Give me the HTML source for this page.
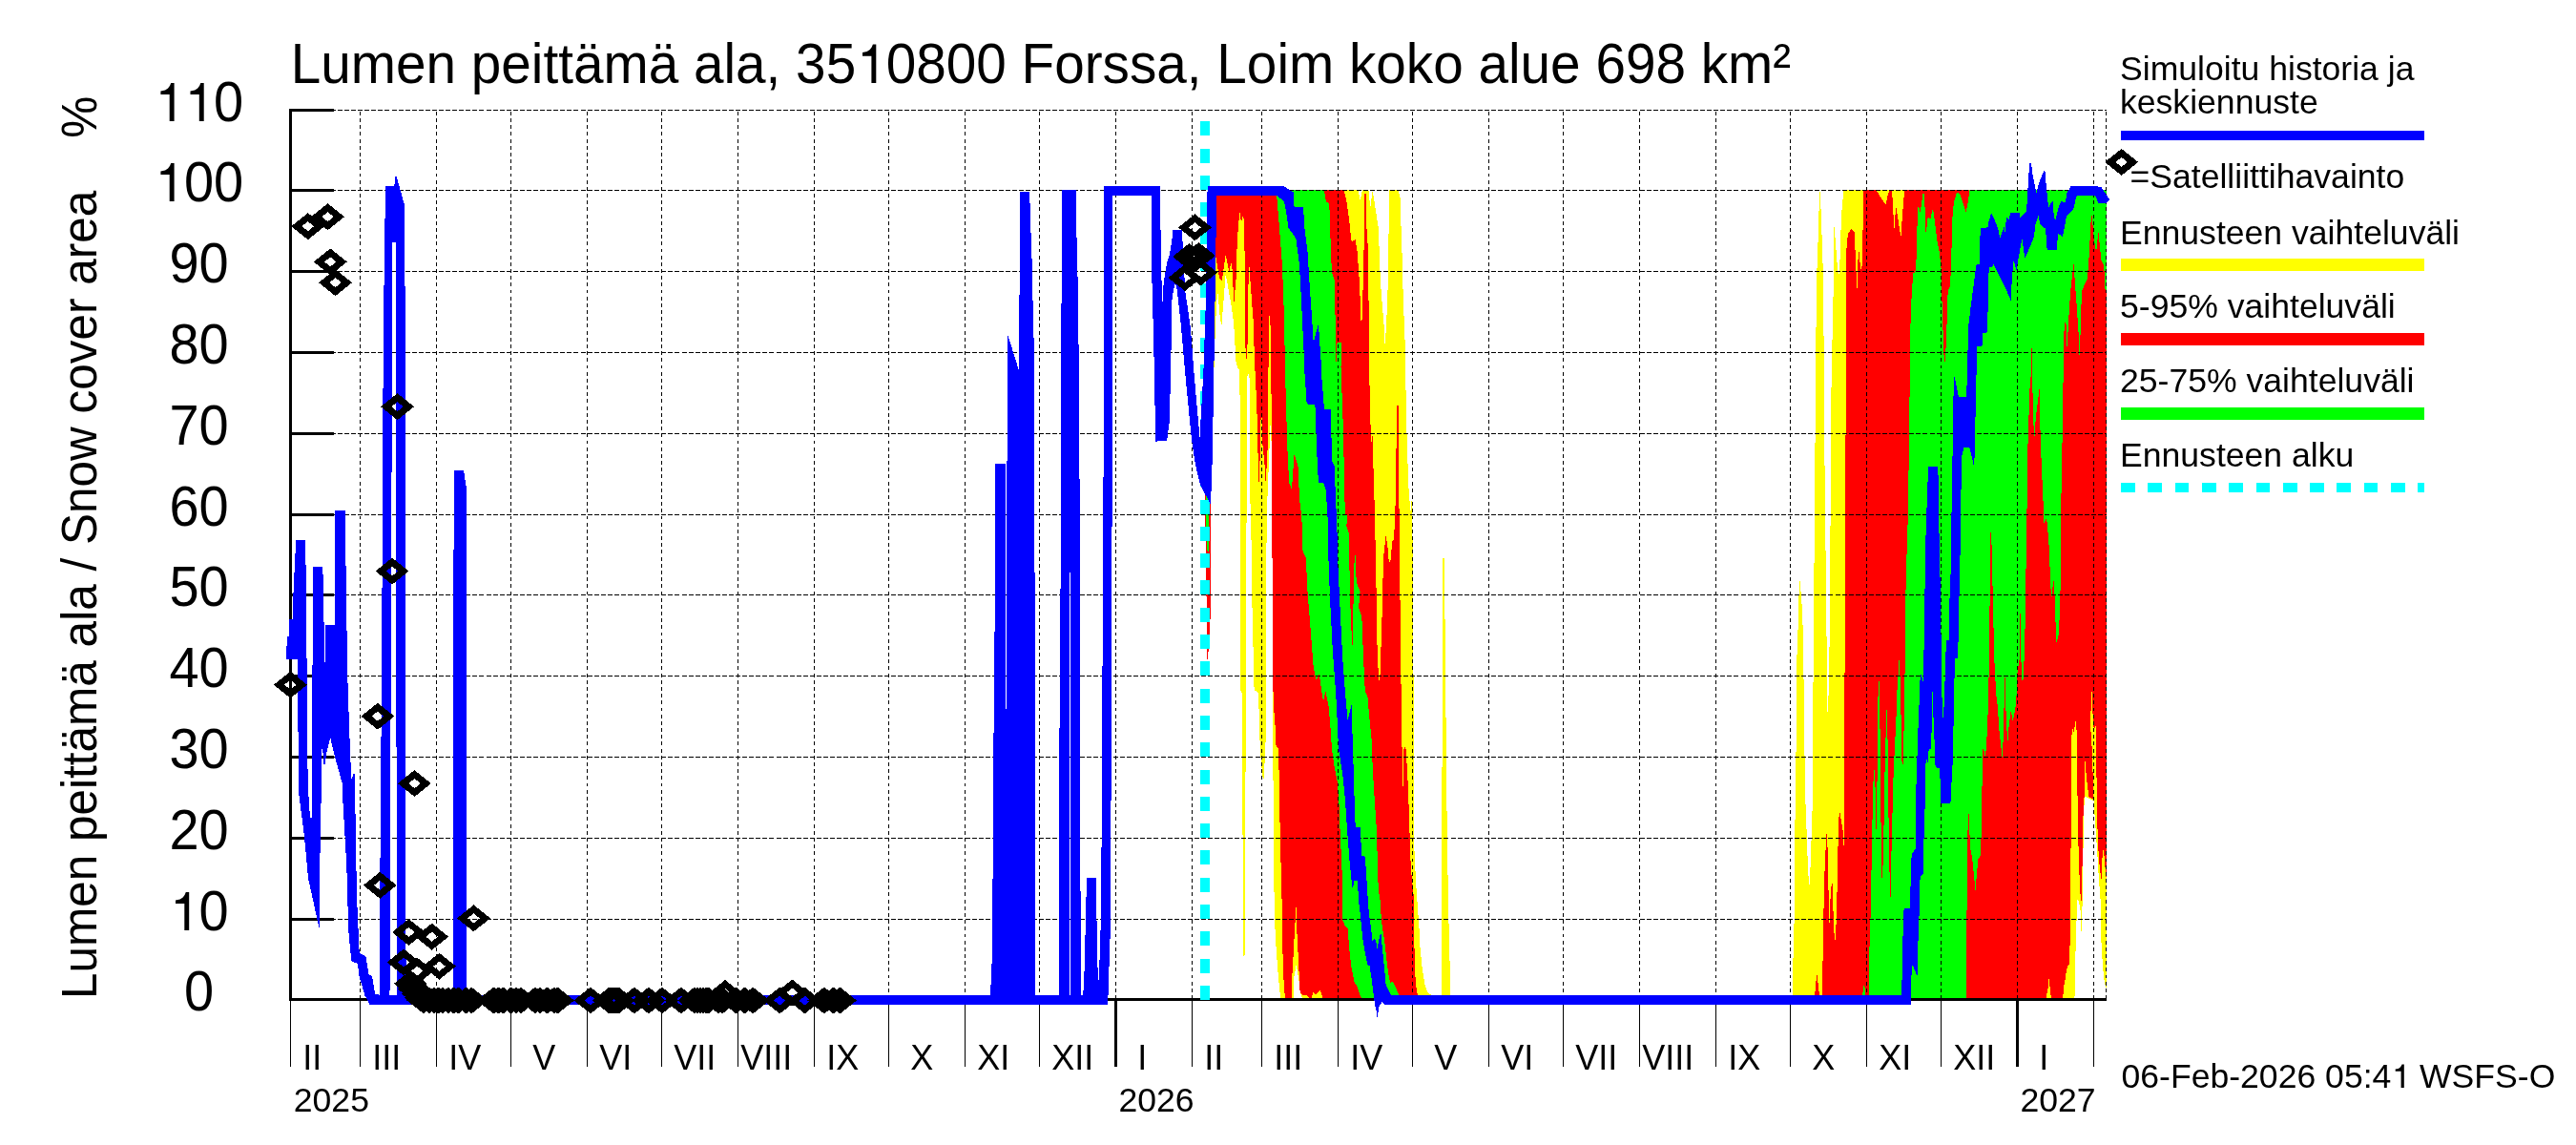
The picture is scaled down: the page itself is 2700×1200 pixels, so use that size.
<!DOCTYPE html>
<html><head><meta charset="utf-8"><title>Lumen peittämä ala</title>
<style>
html,body{margin:0;padding:0;background:#fff;}
body{width:2700px;height:1200px;overflow:hidden;font-family:"Liberation Sans",sans-serif;}
svg{display:block;position:absolute;left:0;top:0;will-change:transform}
text{font-family:"Liberation Sans",sans-serif;fill:#000;font-kerning:none;font-variant-ligatures:none}
</style></head><body>
<svg width="2700" height="1200" viewBox="0 0 2700 1200">
<rect width="2700" height="1200" fill="#fff"/>
<g shape-rendering="crispEdges">
<path d="M1270.0 199.3L1423.6 199.3L1425.7 209.5L1427.9 199.3L1434.4 199.3L1436.3 217.3L1438.4 201.6L1438.8 200.7L1441.9 220.0L1444.5 237.4L1445.8 263.6L1446.8 293.3L1448.9 321.2L1450.7 342.2L1451.7 364.0L1452.4 351.0L1453.8 324.7L1455.0 289.8L1455.5 246.1L1456.2 199.3L1465.5 199.3L1467.8 207.7L1468.5 237.4L1469.9 275.8L1470.7 310.8L1472.0 342.2L1473.0 368.4L1473.0 385.0L1474.5 454.9L1476.2 507.3L1477.1 521.3L1478.5 535.0L1480.3 517.8L1480.6 585.0L1481.5 707.3L1482.4 785.0L1482.4 889.8L1484.1 924.8L1485.9 951.0L1487.6 973.7L1488.6 994.3L1490.8 1016.1L1493.5 1032.4L1496.2 1040.0L1500.0 1042.7L1501.0 1047.5L1365.2 1047.5L1363.0 1040.0L1361.4 1027.0L1358.7 1011.0L1355.9 1027.0L1355.9 1047.5L1342.2 1047.5L1340.2 1027.0L1338.0 1000.0L1336.4 972.0L1335.6 942.0L1334.7 872.0L1334.4 785.0L1333.9 686.0L1333.5 585.0L1333.0 470.0L1331.5 446.0L1328.5 520.0L1326.9 600.0L1326.5 785.0L1324.2 821.0L1322.0 800.0L1320.8 785.0L1319.0 726.0L1314.6 723.0L1313.8 690.0L1312.4 632.0L1312.0 585.0L1310.3 520.0L1310.3 400.0L1308.5 392.0L1306.8 396.0L1306.8 500.0L1306.3 585.0L1306.3 800.0L1305.0 815.0L1304.9 1000.0L1303.8 1003.0L1302.7 1000.0L1302.5 875.0L1301.5 870.0L1301.5 726.0L1300.3 724.0L1300.3 600.0L1299.4 388.0L1297.0 385.0L1295.5 379.0L1293.2 339.0L1290.5 320.0L1284.7 287.0L1280.5 340.0L1279.0 335.0L1276.1 304.0L1274.0 340.0L1272.5 385.0L1270.0 385.0Z" fill="#ffff00"/>
<path d="M1512.5 585.0L1513.9 585.0L1515.0 700.0L1516.5 850.0L1518.0 950.0L1519.3 995.0L1520.1 1038.0L1520.5 1047.5L1511.2 1047.5L1511.2 940.0L1511.4 850.0L1511.8 700.0Z" fill="#ffff00"/>
<path d="M1878.4 1047.5L1879.3 1010.0L1880.4 978.0L1881.3 904.0L1881.8 799.0L1882.7 785.0L1883.2 695.0L1884.5 660.0L1885.3 630.0L1886.2 605.1L1887.5 620.0L1888.8 637.4L1889.7 660.1L1890.6 717.8L1891.4 785.0L1892.3 837.4L1893.5 868.8L1894.9 907.3L1896.3 930.9L1897.6 907.3L1898.8 872.3L1899.8 840.9L1900.2 785.0L1900.5 717.8L1901.0 595.5L1901.9 585.0L1902.4 481.0L1903.1 385.0L1903.7 324.7L1904.5 281.0L1905.8 246.0L1906.8 211.2L1907.5 200.7L1908.6 220.0L1909.8 254.9L1910.7 281.0L1911.2 324.7L1911.9 385.0L1912.4 476.0L1913.3 573.6L1914.1 585.0L1914.5 667.0L1915.5 746.6L1916.8 724.7L1917.6 672.3L1918.2 585.0L1918.5 554.4L1919.0 433.9L1919.9 385.0L1920.8 342.2L1922.0 289.8L1922.5 238.3L1924.0 255.0L1925.5 275.0L1927.2 291.6L1928.5 272.3L1929.5 240.9L1930.7 216.4L1932.5 199.3L2208.2 199.3L2208.2 1036.0L2207.3 1034.8L2205.9 1030.6L2204.0 1013.8L2202.4 985.9L2202.4 959.7L2201.5 942.2L2199.7 917.7L2198.0 889.8L2196.2 863.6L2194.5 839.1L2185.8 834.8L2184.9 836.0L2184.0 854.9L2183.5 889.8L2182.8 924.7L2182.5 950.0L2182.3 994.0L2180.6 955.0L2179.0 944.0L2177.2 943.3L2175.5 997.0L2174.7 1041.8L2174.2 1047.5Z" fill="#ffff00"/>
<path d="M1270.0 199.3L1408.7 199.3L1411.4 211.0L1414.0 229.0L1415.7 246.0L1416.6 253.0L1420.6 251.0L1422.7 264.0L1424.5 290.0L1425.9 318.0L1426.5 336.0L1427.9 335.0L1428.8 290.0L1429.7 255.0L1429.7 203.3L1431.8 203.3L1432.3 237.0L1433.5 255.0L1434.2 307.0L1434.9 325.0L1434.8 385.0L1436.1 420.0L1436.9 469.0L1437.8 460.0L1438.3 448.0L1438.8 470.0L1440.4 518.0L1441.3 560.0L1442.2 585.0L1443.0 664.0L1444.8 707.0L1445.7 714.0L1446.5 707.0L1448.3 655.0L1449.2 620.0L1450.0 585.0L1451.0 575.0L1452.5 562.0L1454.4 572.0L1455.3 585.0L1457.0 590.0L1458.0 585.0L1459.0 567.0L1461.0 565.0L1462.0 545.0L1462.3 539.0L1463.2 500.0L1464.0 425.2L1465.8 425.2L1466.0 500.0L1466.6 539.0L1466.6 585.0L1467.5 629.0L1468.4 707.0L1469.2 780.0L1469.8 785.0L1470.5 824.0L1471.5 785.0L1472.7 783.0L1473.6 785.0L1475.4 815.0L1477.1 858.0L1478.0 890.0L1478.9 911.0L1481.5 937.0L1482.3 985.0L1483.2 1021.0L1484.8 1038.0L1485.9 1043.0L1486.5 1047.5L1385.9 1047.5L1385.4 1042.0L1383.7 1037.8L1378.8 1042.7L1376.0 1040.0L1375.0 1046.5L1372.8 1046.0L1369.6 1042.7L1365.0 1043.0L1363.0 1040.0L1362.5 1038.0L1360.9 1005.0L1359.3 975.0L1358.5 951.0L1357.0 975.0L1355.7 1000.0L1354.1 1027.0L1353.8 1047.5L1347.1 1047.5L1345.7 1032.0L1344.6 1005.0L1343.5 942.0L1342.6 907.0L1341.7 872.0L1340.8 820.0L1340.0 785.0L1337.4 781.0L1336.5 760.0L1334.7 737.0L1333.9 686.0L1333.5 585.0L1333.0 425.0L1332.0 400.0L1331.5 341.0L1330.5 330.5L1329.8 341.0L1329.4 404.0L1328.8 467.0L1326.7 506.6L1325.6 488.0L1323.5 467.0L1321.9 420.6L1321.0 467.0L1320.0 500.0L1319.4 506.6L1318.3 467.0L1317.3 425.0L1315.2 383.0L1313.0 320.0L1312.8 326.0L1310.9 300.0L1309.5 280.2L1308.4 300.0L1308.4 320.0L1307.6 360.0L1306.4 377.7L1305.2 360.0L1304.8 320.0L1304.6 266.0L1304.0 241.0L1303.3 223.2L1301.0 233.0L1299.3 222.0L1297.5 243.5L1296.4 263.0L1295.8 289.3L1293.2 319.5L1291.9 284.0L1290.3 275.0L1288.3 285.4L1284.7 266.4L1280.7 294.6L1278.1 292.0L1274.2 268.0L1270.0 268.0Z" fill="#ff0000"/>
<path d="M1910.0 1047.5L1910.6 1000.0L1911.4 958.0L1912.1 923.0L1913.3 895.0L1915.0 866.2L1916.2 917.7L1917.3 972.8L1918.3 945.0L1920.3 918.1L1921.1 945.7L1922.8 985.0L1923.8 985.0L1924.6 966.7L1925.5 935.2L1926.4 891.6L1927.2 860.0L1928.1 849.3L1929.9 860.1L1931.6 870.6L1932.5 886.3L1932.8 880.0L1932.8 707.3L1933.7 703.8L1933.9 585.0L1933.9 458.4L1934.8 454.9L1935.1 385.0L1935.1 264.0L1936.9 245.0L1940.3 240.0L1943.8 243.0L1945.0 275.0L1946.5 302.0L1947.3 275.0L1948.2 260.0L1949.5 275.0L1950.0 283.0L1951.7 279.0L1952.6 237.0L1953.4 199.3L1966.6 199.3L1972.0 208.0L1976.7 214.7L1978.5 205.0L1980.5 199.3L1983.1 199.3L1984.5 225.0L1985.4 240.9L1986.5 225.0L1987.5 218.2L1989.5 230.0L1992.4 248.8L1994.0 225.0L1996.2 199.3L2208.2 199.3L2208.2 925.0L2206.7 910.8L2205.5 896.8L2204.1 888.1L2203.2 905.5L2202.4 923.0L2200.6 907.3L2198.9 882.8L2198.0 851.4L2196.5 845.0L2194.5 838.0L2189.3 834.8L2187.5 819.9L2185.8 802.5L2185.0 790.0L2184.5 800.0L2185.2 825.2L2184.5 836.0L2183.5 854.9L2182.8 889.8L2182.3 921.2L2181.7 945.7L2180.5 937.0L2179.3 912.5L2178.3 881.0L2177.5 833.9L2177.0 785.0L2176.5 765.0L2175.8 754.1L2174.5 762.0L2173.2 768.0L2172.3 763.2L2171.5 770.0L2170.9 785.0L2170.6 879.3L2170.2 930.0L2169.5 991.5L2168.8 1010.0L2166.7 1014.0L2165.5 1020.0L2164.5 1027.0L2163.0 1035.0L2162.1 1047.5L2150.0 1047.5L2148.5 1034.0L2147.6 1025.0L2146.5 1036.0L2144.4 1047.5Z" fill="#ff0000"/>
<path d="M1901.9 1047.5L1903.0 1032.0L1904.4 1021.1L1905.5 1030.0L1907.5 1047.5Z" fill="#ff0000"/>
<path d="M1262.8 508.0L1269.0 527.0L1268.9 640.0L1268.0 660.0L1266.5 683.0L1265.7 693.0L1264.8 683.0L1264.3 585.0L1263.2 540.0Z" fill="#ff0000"/>
<path d="M2192.4 721.2L2193.0 740.0L2194.3 760.0L2195.2 770.0L2196.2 746.6L2196.8 775.0L2197.1 785.0L2198.0 851.4L2196.5 845.0L2194.5 839.1L2192.7 785.0L2191.0 759.7L2191.7 740.0Z" fill="#ffff00"/>
<path d="M1336.0 199.3L1388.0 199.3L1389.8 211.0L1393.3 214.0L1395.0 264.0L1395.9 285.0L1398.5 293.0L1399.4 325.0L1400.2 360.0L1400.5 379.0L1401.5 360.0L1402.9 358.8L1405.8 358.8L1405.5 385.0L1408.1 455.0L1409.0 507.0L1409.9 539.0L1412.5 540.5L1411.2 551.0L1414.2 560.0L1414.2 585.0L1415.1 620.0L1415.8 650.0L1417.8 680.0L1419.0 600.0L1420.3 573.7L1421.0 600.0L1422.1 611.0L1425.6 620.0L1424.0 637.0L1427.3 646.0L1429.1 690.0L1430.8 725.0L1433.4 730.0L1435.2 751.0L1437.8 777.0L1437.8 785.0L1439.6 820.0L1441.3 846.0L1443.0 872.0L1443.9 907.0L1444.8 933.5L1447.4 947.5L1447.3 956.0L1448.9 972.6L1451.1 985.7L1452.7 999.8L1454.3 1013.9L1456.0 1024.8L1457.1 1030.2L1459.8 1028.6L1462.0 1032.4L1464.1 1037.8L1466.1 1042.7L1467.0 1047.5L1427.2 1047.5L1425.0 1041.0L1422.8 1034.6L1419.6 1029.0L1416.8 1016.0L1414.7 999.8L1413.6 985.7L1412.5 972.6L1409.8 970.4L1407.1 964.0L1407.2 942.0L1406.4 907.0L1404.6 872.0L1403.7 846.0L1402.0 820.0L1398.5 802.5L1395.9 785.0L1395.0 768.0L1392.4 739.0L1389.4 724.0L1387.1 735.0L1385.4 725.0L1382.8 707.0L1379.3 712.5L1376.7 699.0L1374.0 664.0L1370.5 620.0L1368.8 585.0L1365.3 577.0L1364.4 542.0L1361.8 521.0L1360.9 490.0L1356.6 475.8L1354.0 512.5L1351.3 507.0L1349.6 476.0L1347.8 420.0L1347.0 385.0L1346.1 342.0L1345.2 307.0L1343.5 272.0L1340.8 237.0L1338.2 205.0L1336.0 205.0Z" fill="#00ff00"/>
<path d="M1958.9 1047.5L1959.6 985.0L1960.4 968.4L1961.3 924.7L1962.2 872.3L1963.4 819.9L1964.5 806.8L1965.4 820.0L1966.5 869.0L1967.5 820.0L1967.9 785.0L1968.5 730.0L1969.2 700.3L1969.9 730.0L1970.9 785.0L1970.9 840.9L1971.8 872.3L1972.5 920.4L1973.2 920.4L1974.4 872.3L1975.3 816.4L1976.2 785.0L1977.4 740.1L1978.8 785.0L1978.8 799.0L1979.7 872.3L1980.9 933.5L1981.4 943.1L1981.9 930.0L1982.3 898.5L1983.1 872.3L1984.0 826.9L1984.9 806.0L1985.8 785.0L1987.2 760.0L1988.4 724.7L1990.2 700.0L1990.7 687.2L1991.3 700.0L1991.9 724.7L1992.8 760.0L1992.8 785.0L1994.1 808.6L1995.4 785.0L1994.8 777.1L1995.9 759.7L1996.8 681.1L1997.6 611.2L1998.0 585.0L1998.9 577.1L1999.7 542.2L2000.6 488.1L2001.5 416.4L2002.0 385.0L2002.4 342.2L2003.2 317.7L2004.6 295.0L2005.9 282.0L2007.0 290.0L2008.5 272.3L2009.3 240.9L2010.6 215.6L2012.8 222.5L2015.5 202.5L2016.7 202.5L2018.1 227.0L2018.6 246.0L2020.7 227.0L2023.3 229.5L2025.9 218.2L2027.7 230.4L2030.3 251.4L2032.9 265.3L2034.7 282.8L2035.5 316.0L2036.4 342.2L2037.3 370.2L2038.5 378.9L2039.9 359.7L2040.8 330.0L2041.7 303.8L2043.4 302.0L2044.8 286.3L2045.5 260.1L2046.5 227.0L2047.8 213.0L2050.4 203.3L2052.1 201.6L2054.8 204.2L2057.4 213.0L2060.5 221.7L2062.6 213.0L2064.4 199.3L2208.2 199.3L2208.2 307.3L2206.7 307.3L2205.9 289.8L2205.0 277.6L2202.4 272.3L2200.6 254.9L2199.4 242.6L2197.1 265.3L2195.0 251.4L2193.6 237.4L2192.2 222.5L2191.0 240.9L2190.1 261.9L2188.4 284.6L2187.5 293.3L2184.9 298.5L2182.3 304.7L2181.4 321.2L2180.5 351.0L2179.7 377.2L2178.8 352.7L2177.0 324.7L2174.4 289.8L2173.5 276.7L2171.8 289.8L2170.0 307.3L2168.3 333.5L2166.6 364.9L2165.4 337.0L2163.6 338.7L2163.1 385.0L2162.5 401.6L2161.8 463.6L2160.8 465.3L2160.4 538.7L2160.1 585.0L2159.6 616.4L2158.7 646.1L2157.8 665.3L2155.7 672.9L2155.2 672.3L2154.3 646.1L2153.4 620.0L2152.2 605.1L2151.4 616.4L2150.3 626.9L2149.1 611.2L2148.2 585.0L2147.3 566.7L2146.1 553.6L2145.1 542.2L2142.1 549.2L2141.6 526.5L2140.3 498.5L2139.1 470.6L2138.1 437.4L2137.7 406.0L2135.1 427.0L2133.4 442.6L2132.1 464.5L2131.0 430.0L2130.2 400.0L2129.7 365.0L2129.3 365.0L2128.6 393.7L2127.2 411.2L2126.4 439.1L2125.5 465.3L2124.6 526.5L2123.8 585.0L2123.4 599.8L2122.4 667.1L2121.7 689.8L2120.8 707.3L2119.9 720.4L2118.3 690.0L2117.6 636.5L2116.8 690.0L2114.1 707.3L2113.3 737.0L2109.8 756.2L2107.7 744.8L2105.4 763.2L2104.2 780.6L2102.4 742.2L2101.4 705.5L2100.5 742.0L2099.3 785.0L2098.5 793.0L2097.6 785.0L2096.7 777.1L2094.9 759.7L2094.1 742.2L2092.3 728.2L2090.6 698.5L2089.2 646.1L2087.9 585.0L2087.2 558.0L2086.2 557.9L2086.2 585.0L2085.7 616.4L2085.0 689.8L2083.6 747.4L2082.7 768.4L2081.8 785.0L2080.5 792.0L2079.2 785.0L2078.0 785.0L2077.5 825.2L2076.6 875.8L2075.7 896.8L2073.4 900.3L2072.2 913.4L2070.5 932.6L2068.7 914.3L2067.0 898.5L2065.2 889.8L2063.5 853.1L2062.6 861.9L2061.7 952.7L2061.2 955.2L2060.9 1047.5Z" fill="#00ff00"/>
<path d="M1951.5 1047.5L1952.8 1038.0L1953.9 1029.9L1955.0 1040.0L1956.0 1047.5Z" fill="#00ff00"/>
<path d="M1264.0 512.0L1266.8 522.0L1266.8 578.0L1265.6 578.0L1264.6 560.0Z" fill="#00ff00"/>
</g>

<path d="M304.5 963.5H2208M304.5 878.5H2208M304.5 793.5H2208M304.5 708.5H2208M304.5 623.5H2208M304.5 539.5H2208M304.5 454.5H2208M304.5 369.5H2208M304.5 284.5H2208M304.5 199.5H2208M304.5 115.5H2208" stroke="#000" stroke-width="1" stroke-dasharray="5 2.07" fill="none" shape-rendering="crispEdges"/>
<path d="M377.5 116.9V1046M457.5 116.9V1046M535.5 116.9V1046M615.5 116.9V1046M693.5 116.9V1046M773.5 116.9V1046M853.5 116.9V1046M931.5 116.9V1046M1011.5 116.9V1046M1089.5 116.9V1046M1169.5 116.9V1046M1249.5 116.9V1046M1322.5 116.9V1046M1402.5 116.9V1046M1480.5 116.9V1046M1560.5 116.9V1046M1638.5 116.9V1046M1718.5 116.9V1046M1798.5 116.9V1046M1876.5 116.9V1046M1956.5 116.9V1046M2034.5 116.9V1046M2114.5 116.9V1046M2194.5 116.9V1046M2207.5 116.9V1046" stroke="#000" stroke-width="1" stroke-dasharray="3.9 3.28" fill="none" shape-rendering="crispEdges"/>
<g stroke="#000" fill="none" shape-rendering="crispEdges">
<path d="M304.5 114V1049M303 1047.5H2208" stroke-width="3"/>
<path d="M303 963.5H350M303 878.5H350M303 793.5H350M303 708.5H350M303 623.5H350M303 539.5H350M303 454.5H350M303 369.5H350M303 284.5H350M303 199.5H350M303 115.5H350" stroke-width="3"/>
<path d="M304.5 1047V1118M377.5 1047V1118M457.5 1047V1118M535.5 1047V1118M615.5 1047V1118M693.5 1047V1118M773.5 1047V1118M853.5 1047V1118M931.5 1047V1118M1011.5 1047V1118M1089.5 1047V1118M1249.5 1047V1118M1322.5 1047V1118M1402.5 1047V1118M1480.5 1047V1118M1560.5 1047V1118M1638.5 1047V1118M1718.5 1047V1118M1798.5 1047V1118M1876.5 1047V1118M1956.5 1047V1118M2034.5 1047V1118M2194.5 1047V1118" stroke-width="1"/>
<path d="M1169.5 1047V1118M2114.5 1047V1118" stroke-width="3"/>
</g>
<path d="M1263 127.3V1047.6" stroke="#00ffff" stroke-width="9.8" stroke-dasharray="15 13.3" fill="none" shape-rendering="crispEdges"/>
<g shape-rendering="crispEdges" fill="#0000ff">
<path fill-rule="evenodd" d="M299.8 690.9L299.8 676.6L301.0 676.6L301.0 667.0L302.5 667.0L302.5 649.0L306.7 649.0L307.1 631.0L308.1 608.0L309.2 586.0L310.3 566.1L319.9 566.1L319.9 592.0L320.8 592.0L320.8 690.0L321.8 690.0L322.0 788.0L323.2 830.0L324.5 850.0L325.5 857.0L326.8 857.0L327.3 840.0L327.3 700.0L328.0 690.0L328.0 593.8L338.1 593.8L338.1 602.0L338.9 602.0L338.9 652.0L339.9 652.0L339.9 693.7L341.0 693.7L341.0 655.3L351.1 655.3L351.1 535.2L362.0 535.2L362.0 593.0L363.0 593.0L363.0 661.0L364.0 661.0L364.0 700.0L365.0 732.0L366.5 774.0L367.9 808.8L368.6 817.2L370.7 810.9L372.1 811.6L372.0 840.0L372.9 863.0L373.8 936.0L376.7 999.0L383.4 1002.0L386.3 1020.5L390.2 1024.0L393.0 1041.6L397.8 1042.6L398.5 900.0L400.1 700.0L400.6 600.0L401.4 420.0L402.5 300.0L404.0 195.0L413.4 195.0L414.0 185.0L415.5 184.8L418.8 196.0L423.6 213.7L424.3 230.0L424.5 300.0L425.0 600.0L425.2 700.0L425.5 1000.0L425.5 1052.5L387.0 1052.5L386.3 1051.0L382.5 1043.5L376.7 1024.0L374.8 1010.0L367.5 1007.0L367.5 999.4L365.2 974.0L363.3 907.0L359.4 840.0L359.5 824.0L351.0 793.0L346.2 773.0L342.0 790.0L341.0 801.0L338.8 801.0L338.8 790.0L337.4 785.0L336.4 850.0L335.4 900.0L335.4 960.0L334.5 972.5L323.0 920.6L319.1 878.0L314.3 840.0L313.0 830.0L312.6 780.0L312.0 690.9ZM411.2 254.0L414.9 254.0L415.1 600.0L416.0 1000.0L416.5 1042.7L408.5 1042.7L409.7 700.0L410.5 500.0Z"/>
<path d="M474.8 1052.5L474.8 700.0L476.0 493.0L486.0 493.0L489.0 512.0L489.0 1052.5Z"/>
<path d="M1038.0 1052.5L1038.0 1042.7L1040.0 999.0L1041.5 769.0L1043.1 600.0L1043.1 486.3L1053.6 486.3L1053.6 743.0L1055.0 743.0L1055.0 1052.5ZM1054.9 1052.5L1054.9 743.0L1055.5 486.0L1056.0 350.0L1067.8 387.8L1068.3 312.0L1069.2 300.0L1069.2 201.0L1079.0 201.0L1079.8 220.0L1081.0 260.0L1081.7 274.5L1082.6 319.0L1083.7 361.0L1083.7 505.0L1084.5 600.0L1085.3 900.0L1085.3 1052.5Z"/>
<path fill-rule="evenodd" d="M1110.1 1052.5L1110.1 1042.7L1110.7 646.0L1112.0 600.0L1112.2 319.0L1113.4 315.0L1113.4 199.0L1127.9 199.0L1128.3 240.0L1129.9 305.0L1130.7 377.0L1131.4 480.0L1132.2 640.0L1132.3 901.0L1133.2 1042.7L1135.2 1042.7L1136.3 1026.0L1137.4 985.0L1139.0 920.2L1148.8 920.2L1149.6 971.0L1150.5 1013.9L1151.6 1028.0L1153.4 985.0L1154.5 890.0L1155.4 740.0L1155.8 600.0L1156.8 460.0L1156.8 195.2L1215.8 195.1L1216.5 240.9L1217.1 284.9L1218.6 317.7L1219.6 297.0L1221.4 285.6L1223.5 274.0L1226.0 266.0L1228.4 252.0L1229.1 240.9L1238.9 240.9L1240.0 262.0L1241.2 285.0L1242.4 306.5L1245.2 324.7L1248.0 345.0L1251.0 385.0L1254.5 425.0L1257.5 457.6L1261.4 389.5L1264.0 311.0L1265.6 195.1L1345.7 195.1L1355.7 201.6L1355.7 216.4L1366.2 217.3L1367.0 235.7L1370.5 263.6L1372.3 293.3L1374.9 330.0L1376.7 358.8L1381.9 339.6L1384.5 377.0L1384.5 385.0L1388.0 428.7L1395.0 429.5L1395.9 482.8L1398.5 488.1L1400.2 524.8L1401.6 559.7L1402.0 585.0L1404.6 637.4L1407.2 689.8L1409.9 724.8L1412.5 754.5L1416.8 737.9L1417.4 759.7L1417.7 785.0L1418.6 802.5L1420.3 860.1L1421.2 867.1L1425.6 867.1L1427.3 896.8L1430.8 897.7L1432.6 924.8L1434.3 951.0L1434.8 956.3L1437.0 972.6L1438.6 986.7L1440.2 984.0L1442.0 985.0L1443.5 994.3L1445.0 987.0L1446.2 980.2L1447.6 979.1L1448.0 985.7L1449.5 999.8L1451.1 1016.1L1452.7 1032.4L1455.4 1037.8L1457.8 1042.7L1470.0 1042.7L1470.0 1052.5L1451.1 1052.5L1448.9 1050.0L1445.7 1054.0L1444.6 1060.0L1443.5 1066.0L1442.9 1060.0L1441.3 1054.0L1440.2 1046.5L1439.1 1037.8L1437.0 1021.5L1435.3 1011.2L1434.0 1013.0L1433.2 1009.6L1431.0 999.8L1428.3 983.5L1426.1 961.7L1423.9 942.0L1423.0 923.0L1419.5 923.0L1417.7 931.8L1416.8 924.8L1414.2 898.6L1411.6 863.6L1409.9 837.4L1407.2 811.2L1403.0 785.0L1401.1 742.2L1399.4 716.0L1396.8 681.1L1394.1 628.7L1392.4 585.0L1391.5 542.2L1389.8 514.3L1387.1 505.5L1381.9 505.5L1380.2 472.4L1378.4 424.3L1369.7 423.4L1367.0 385.0L1367.0 377.0L1365.3 342.2L1363.6 307.3L1361.8 275.8L1358.3 249.6L1350.5 239.0L1347.8 220.0L1346.0 211.0L1338.2 205.1L1275.0 205.1L1274.8 230.0L1273.2 337.0L1271.9 415.7L1270.6 485.0L1269.5 515.0L1268.5 527.6L1258.0 508.5L1252.8 486.2L1248.9 460.0L1243.0 400.0L1238.2 345.0L1236.1 324.7L1233.3 300.9L1231.9 296.7L1229.8 305.0L1228.0 317.7L1227.9 345.0L1227.1 389.7L1225.8 442.1L1223.1 461.8L1211.4 462.6L1210.6 429.0L1209.3 363.5L1207.5 296.7L1206.5 205.0L1166.3 204.9L1165.8 460.0L1165.8 551.7L1164.5 552.0L1164.9 740.0L1164.0 970.6L1162.0 1028.0L1161.2 1052.5ZM1120.9 600.0L1122.1 600.0L1122.3 1042.7L1120.8 1042.7Z"/>
<path d="M1993.0 1052.5L1993.0 1042.7L1993.5 1027.8L1994.2 991.5L1995.3 955.2L1995.8 952.1L2002.3 951.7L2002.3 930.0L2002.9 928.2L2003.6 895.0L2007.6 889.8L2008.1 847.9L2008.8 804.2L2009.9 785.0L2010.6 759.7L2011.6 737.0L2012.3 714.3L2013.7 706.4L2015.5 714.3L2016.3 695.0L2017.2 634.8L2018.1 585.0L2018.1 573.6L2019.3 537.0L2020.3 512.5L2021.0 488.9L2030.8 488.9L2032.0 503.8L2032.6 568.4L2033.3 585.0L2033.8 633.9L2034.7 672.3L2035.2 724.7L2036.8 757.9L2038.2 724.7L2039.9 671.5L2042.9 670.6L2043.4 630.4L2045.2 585.0L2045.5 537.0L2046.5 479.3L2047.2 423.4L2048.3 393.7L2053.0 416.1L2060.9 416.1L2061.7 400.7L2062.3 385.0L2062.6 359.7L2063.5 338.7L2066.1 317.7L2068.7 298.5L2071.4 277.6L2074.8 276.7L2075.2 251.4L2076.2 239.1L2083.6 238.3L2084.5 232.2L2087.1 223.1L2090.6 230.4L2094.1 239.1L2096.3 249.5L2100.5 238.0L2101.5 243.0L2103.1 227.0L2105.2 230.7L2107.3 223.1L2117.0 223.1L2117.2 228.6L2123.7 222.3L2124.6 212.9L2126.2 185.6L2127.2 171.0L2129.0 171.0L2130.3 181.4L2132.4 193.0L2134.5 201.9L2137.2 191.9L2140.3 183.5L2142.4 179.1L2144.0 180.4L2144.5 191.9L2145.5 202.4L2147.1 217.6L2149.7 212.9L2151.6 210.8L2152.3 222.3L2154.1 231.7L2156.0 223.4L2158.1 216.0L2160.4 211.3L2164.9 211.8L2166.5 202.4L2170.2 195.3L2197.9 195.3L2202.6 196.1L2205.3 200.3L2211.0 208.9L2207.9 212.7L2199.0 212.7L2196.9 206.6L2195.3 204.7L2177.0 204.7L2175.4 209.7L2173.8 218.1L2167.5 225.5L2166.0 226.5L2164.6 234.9L2162.3 246.4L2161.3 248.0L2157.6 244.8L2156.0 254.8L2155.8 261.6L2146.4 261.6L2145.0 259.0L2144.3 240.1L2138.2 234.9L2136.6 226.0L2133.5 234.9L2131.9 248.5L2126.2 262.1L2122.4 270.6L2119.4 250.5L2115.9 268.8L2113.3 283.7L2110.7 272.3L2108.9 289.8L2107.7 315.1L2102.8 303.8L2097.6 293.3L2093.2 284.6L2089.7 276.7L2088.8 279.3L2085.3 280.2L2083.9 289.8L2083.6 324.7L2082.7 348.3L2078.3 349.2L2078.0 362.3L2072.2 363.2L2071.9 385.0L2071.4 395.5L2070.5 437.4L2069.6 479.3L2068.4 488.1L2067.0 479.3L2064.0 468.5L2058.3 468.5L2057.0 475.8L2056.0 478.4L2055.3 528.2L2054.8 580.6L2053.9 585.0L2053.5 626.0L2052.7 668.8L2051.8 689.8L2049.2 689.8L2048.3 717.8L2047.4 766.7L2046.9 785.0L2046.5 802.5L2045.5 819.9L2044.8 837.4L2044.3 841.8L2034.3 841.8L2033.4 812.9L2032.9 805.1L2028.6 804.2L2028.0 785.0L2026.8 760.0L2025.4 722.1L2024.2 785.0L2021.6 785.0L2021.0 799.8L2019.3 795.5L2018.1 802.5L2017.7 842.6L2016.3 885.4L2015.5 916.9L2013.4 917.7L2012.3 923.0L2011.6 959.7L2010.9 964.9L2010.2 1002.7L2009.5 1022.9L2006.7 1016.6L2004.6 1011.0L2003.7 1022.2L2002.8 1023.6L2002.8 1052.5Z"/>
<rect x="420" y="1042.7" width="620" height="9.8"/>
<rect x="1084" y="1042.7" width="28" height="9.8"/>
<rect x="1468" y="1042.7" width="528" height="9.8"/>
</g>

<path d="M292.4 717.7L304.3 708.2L316.2 717.7L304.3 727.2ZM310.8 237.2L322.7 227.7L334.6 237.2L322.7 246.7ZM331.6 227.2L343.5 217.7L355.4 227.2L343.5 236.7ZM334.4 274.4L346.3 264.9L358.2 274.4L346.3 283.9ZM339.7 296.2L351.6 286.7L363.5 296.2L351.6 305.7ZM383.9 750.7L395.8 741.2L407.7 750.7L395.8 760.2ZM404.6 426.2L416.5 416.7L428.4 426.2L416.5 435.7ZM399.1 598.6L411.0 589.1L422.9 598.6L411.0 608.1ZM386.4 927.8L398.3 918.3L410.2 927.8L398.3 937.3ZM422.6 821.1L434.5 811.6L446.4 821.1L434.5 830.6ZM416.5 977.0L428.4 967.5L440.3 977.0L428.4 986.5ZM440.8 981.7L452.7 972.2L464.6 981.7L452.7 991.2ZM484.5 962.4L496.4 952.9L508.3 962.4L496.4 971.9ZM411.2 1008.5L423.1 999.0L435.0 1008.5L423.1 1018.0ZM448.6 1012.7L460.5 1003.2L472.4 1012.7L460.5 1022.2ZM425.3 1017.6L437.2 1008.1L449.1 1017.6L437.2 1027.1ZM418.4 1030.9L430.3 1021.4L442.2 1030.9L430.3 1040.4ZM748.1 1041.0L760.0 1031.5L771.9 1041.0L760.0 1050.5ZM818.5 1040.5L830.4 1031.0L842.3 1040.5L830.4 1050.0ZM422.6 1036.5L434.5 1027.0L446.4 1036.5L434.5 1046.0ZM426.6 1041.5L438.5 1032.0L450.4 1041.5L438.5 1051.0ZM429.6 1045.5L441.5 1036.0L453.4 1045.5L441.5 1055.0ZM1240.5 238.4L1252.4 228.9L1264.3 238.4L1252.4 247.9ZM1234.6 269.0L1246.5 259.5L1258.4 269.0L1246.5 278.5ZM1244.5 268.0L1256.4 258.5L1268.3 268.0L1256.4 277.5ZM1230.1 291.1L1242.0 281.6L1253.9 291.1L1242.0 300.6ZM1246.5 285.6L1258.4 276.1L1270.3 285.6L1258.4 295.1ZM2211.7 169.9L2223.6 160.4L2235.5 169.9L2223.6 179.4ZM432.1 1048.5L444.0 1039.0L455.9 1048.5L444.0 1058.0ZM438.1 1048.5L450.0 1039.0L461.9 1048.5L450.0 1058.0ZM443.1 1048.5L455.0 1039.0L466.9 1048.5L455.0 1058.0ZM447.6 1048.5L459.5 1039.0L471.4 1048.5L459.5 1058.0ZM452.1 1048.5L464.0 1039.0L475.9 1048.5L464.0 1058.0ZM458.1 1048.5L470.0 1039.0L481.9 1048.5L470.0 1058.0ZM463.7 1048.5L475.6 1039.0L487.5 1048.5L475.6 1058.0ZM468.6 1048.5L480.5 1039.0L492.4 1048.5L480.5 1058.0ZM476.8 1048.5L488.7 1039.0L500.6 1048.5L488.7 1058.0ZM482.2 1048.5L494.1 1039.0L506.0 1048.5L494.1 1058.0ZM505.5 1048.5L517.4 1039.0L529.3 1048.5L517.4 1058.0ZM510.6 1048.5L522.5 1039.0L534.4 1048.5L522.5 1058.0ZM515.7 1048.5L527.6 1039.0L539.5 1048.5L527.6 1058.0ZM523.6 1048.5L535.5 1039.0L547.4 1048.5L535.5 1058.0ZM529.1 1048.5L541.0 1039.0L552.9 1048.5L541.0 1058.0ZM534.1 1048.5L546.0 1039.0L557.9 1048.5L546.0 1058.0ZM549.1 1048.5L561.0 1039.0L572.9 1048.5L561.0 1058.0ZM554.1 1048.5L566.0 1039.0L577.9 1048.5L566.0 1058.0ZM561.8 1048.5L573.7 1039.0L585.6 1048.5L573.7 1058.0ZM569.1 1048.5L581.0 1039.0L592.9 1048.5L581.0 1058.0ZM572.6 1048.5L584.5 1039.0L596.4 1048.5L584.5 1058.0ZM607.1 1048.5L619.0 1039.0L630.9 1048.5L619.0 1058.0ZM626.8 1048.5L638.7 1039.0L650.6 1048.5L638.7 1058.0ZM629.1 1048.5L641.0 1039.0L652.9 1048.5L641.0 1058.0ZM631.6 1048.5L643.5 1039.0L655.4 1048.5L643.5 1058.0ZM634.1 1048.5L646.0 1039.0L657.9 1048.5L646.0 1058.0ZM636.5 1048.5L648.4 1039.0L660.3 1048.5L648.4 1058.0ZM653.0 1048.5L664.9 1039.0L676.8 1048.5L664.9 1058.0ZM668.0 1048.5L679.9 1039.0L691.8 1048.5L679.9 1058.0ZM682.1 1048.5L694.0 1039.0L705.9 1048.5L694.0 1058.0ZM702.0 1048.5L713.9 1039.0L725.8 1048.5L713.9 1058.0ZM716.1 1048.5L728.0 1039.0L739.9 1048.5L728.0 1058.0ZM719.1 1048.5L731.0 1039.0L742.9 1048.5L731.0 1058.0ZM722.1 1048.5L734.0 1039.0L745.9 1048.5L734.0 1058.0ZM725.1 1048.5L737.0 1039.0L748.9 1048.5L737.0 1058.0ZM728.1 1048.5L740.0 1039.0L751.9 1048.5L740.0 1058.0ZM730.6 1048.5L742.5 1039.0L754.4 1048.5L742.5 1058.0ZM741.3 1048.5L753.2 1039.0L765.1 1048.5L753.2 1058.0ZM745.2 1048.5L757.1 1039.0L769.0 1048.5L757.1 1058.0ZM759.8 1048.5L771.7 1039.0L783.6 1048.5L771.7 1058.0ZM768.5 1048.5L780.4 1039.0L792.3 1048.5L780.4 1058.0ZM777.2 1048.5L789.1 1039.0L801.0 1048.5L789.1 1058.0ZM805.4 1048.5L817.3 1039.0L829.2 1048.5L817.3 1058.0ZM831.6 1048.5L843.5 1039.0L855.4 1048.5L843.5 1058.0ZM852.0 1048.5L863.9 1039.0L875.8 1048.5L863.9 1058.0ZM861.7 1048.5L873.6 1039.0L885.5 1048.5L873.6 1058.0ZM868.5 1048.5L880.4 1039.0L892.3 1048.5L880.4 1058.0Z" fill="none" stroke="#000" stroke-width="7" stroke-linejoin="miter" stroke-miterlimit="10" shape-rendering="crispEdges"/>

<text transform="translate(192.9,1059.0) scale(1,1.043)" font-size="56">0</text>
<path d="M198.2 935.1L194.8 935.1L193.7 937.7L191.7 940.4L188.7 942.4L184.0 943.4L184.0 947.0L193.3 947.0L193.3 975.0L198.2 975.0Z" fill="#000"/>
<text transform="translate(208.5,975.0) scale(1,1.043)" font-size="56">0</text>
<text transform="translate(177.4,890.0) scale(1,1.043)" font-size="56">20</text>
<text transform="translate(177.4,805.0) scale(1,1.043)" font-size="56">30</text>
<text transform="translate(177.4,720.0) scale(1,1.043)" font-size="56">40</text>
<text transform="translate(177.4,635.0) scale(1,1.043)" font-size="56">50</text>
<text transform="translate(177.4,551.0) scale(1,1.043)" font-size="56">60</text>
<text transform="translate(177.4,466.0) scale(1,1.043)" font-size="56">70</text>
<text transform="translate(177.4,381.0) scale(1,1.043)" font-size="56">80</text>
<text transform="translate(177.4,296.0) scale(1,1.043)" font-size="56">90</text>
<path d="M182.6 171.1L179.2 171.1L178.1 173.7L176.1 176.4L173.1 178.4L168.4 179.4L168.4 183.0L177.7 183.0L177.7 211.0L182.6 211.0Z" fill="#000"/>
<text transform="translate(192.9,211.0) scale(1,1.043)" font-size="56">00</text>
<path d="M182.6 87.1L179.2 87.1L178.1 89.7L176.1 92.4L173.1 94.4L168.4 95.4L168.4 99.0L177.7 99.0L177.7 127.0L182.6 127.0Z" fill="#000"/>
<path d="M213.7 87.1L210.3 87.1L209.2 89.7L207.2 92.4L204.2 94.4L199.5 95.4L199.5 99.0L208.8 99.0L208.8 127.0L213.7 127.0Z" fill="#000"/>
<text transform="translate(224.1,127.0) scale(1,1.043)" font-size="56">0</text>
<path d="M918.3 46.6L914.9 46.6L913.8 49.2L911.8 52.0L908.7 54.0L904.0 55.0L904.0 58.7L913.4 58.7L913.4 87.0L918.3 87.0Z" fill="#000"/>
<text transform="translate(304.7,87.0) scale(1,1.043)" font-size="56.7">Lumen peittämä ala, 35 0800 Forssa, Loim koko alue 698 km²</text>
<text transform="translate(100.8,1047) rotate(-90) scale(1,1.043)" font-size="49.5">Lumen peittämä ala / Snow cover area&#160;&#160;&#160;&#160;%</text>
<text transform="translate(317.3,1121.0) scale(1,1.043)" font-size="36">II</text>
<text transform="translate(390.3,1121.0) scale(1,1.043)" font-size="36">III</text>
<text transform="translate(470.3,1121.0) scale(1,1.043)" font-size="36">IV</text>
<text transform="translate(558.3,1121.0) scale(1,1.043)" font-size="36">V</text>
<text transform="translate(628.3,1121.0) scale(1,1.043)" font-size="36">VI</text>
<text transform="translate(706.3,1121.0) scale(1,1.043)" font-size="36">VII</text>
<text transform="translate(776.3,1121.0) scale(1,1.043)" font-size="36">VIII</text>
<text transform="translate(866.3,1121.0) scale(1,1.043)" font-size="36">IX</text>
<text transform="translate(954.3,1121.0) scale(1,1.043)" font-size="36">X</text>
<text transform="translate(1024.3,1121.0) scale(1,1.043)" font-size="36">XI</text>
<text transform="translate(1102.3,1121.0) scale(1,1.043)" font-size="36">XII</text>
<text transform="translate(1192.3,1121.0) scale(1,1.043)" font-size="36">I</text>
<text transform="translate(1262.3,1121.0) scale(1,1.043)" font-size="36">II</text>
<text transform="translate(1335.3,1121.0) scale(1,1.043)" font-size="36">III</text>
<text transform="translate(1415.3,1121.0) scale(1,1.043)" font-size="36">IV</text>
<text transform="translate(1503.3,1121.0) scale(1,1.043)" font-size="36">V</text>
<text transform="translate(1573.3,1121.0) scale(1,1.043)" font-size="36">VI</text>
<text transform="translate(1651.3,1121.0) scale(1,1.043)" font-size="36">VII</text>
<text transform="translate(1721.3,1121.0) scale(1,1.043)" font-size="36">VIII</text>
<text transform="translate(1811.3,1121.0) scale(1,1.043)" font-size="36">IX</text>
<text transform="translate(1899.3,1121.0) scale(1,1.043)" font-size="36">X</text>
<text transform="translate(1969.3,1121.0) scale(1,1.043)" font-size="36">XI</text>
<text transform="translate(2047.3,1121.0) scale(1,1.043)" font-size="36">XII</text>
<text transform="translate(2137.3,1121.0) scale(1,1.043)" font-size="36">I</text>
<text transform="translate(307.8,1165.0) scale(1,1)" font-size="35.6">2025</text>
<text transform="translate(1172.5,1165.0) scale(1,1)" font-size="35.6">2026</text>
<text transform="translate(2117.4,1165.0) scale(1,1)" font-size="35.6">2027</text>
<path d="M2519.8 1115.5L2517.6 1115.5L2516.9 1117.1L2515.6 1118.8L2513.7 1120.0L2510.7 1120.6L2510.7 1122.8L2516.6 1122.8L2516.6 1140.0L2519.8 1140.0Z" fill="#000"/>
<text transform="translate(2223.5,1140.0) scale(1,1)" font-size="35.6">06-Feb-2026 05:4  WSFS-O</text>
<text transform="translate(2222.0,83.5) scale(1,1)" font-size="35.6">Simuloitu historia ja</text>
<text transform="translate(2222.0,118.5) scale(1,1)" font-size="35.6">keskiennuste</text>
<text transform="translate(2232.5,197.0) scale(1,1)" font-size="35.6">=Satelliittihavainto</text>
<text transform="translate(2222.0,256.0) scale(1,1)" font-size="35.6">Ennusteen vaihteluväli</text>
<text transform="translate(2222.0,332.5) scale(1,1)" font-size="35.6">5-95% vaihteluväli</text>
<text transform="translate(2222.0,410.5) scale(1,1)" font-size="35.6">25-75% vaihteluväli</text>
<text transform="translate(2222.0,488.5) scale(1,1)" font-size="35.6">Ennusteen alku</text>
<g shape-rendering="crispEdges">
<rect x="2223" y="137" width="318" height="10" fill="#0000ff"/>
<rect x="2223" y="271" width="318" height="13" fill="#ffff00"/>
<rect x="2223" y="349" width="318" height="13" fill="#ff0000"/>
<rect x="2223" y="427" width="318" height="13" fill="#00ff00"/>
<path d="M2223 511H2541" stroke="#00ffff" stroke-width="10" stroke-dasharray="14.7 13.6" fill="none"/>
</g>
</svg></body></html>
